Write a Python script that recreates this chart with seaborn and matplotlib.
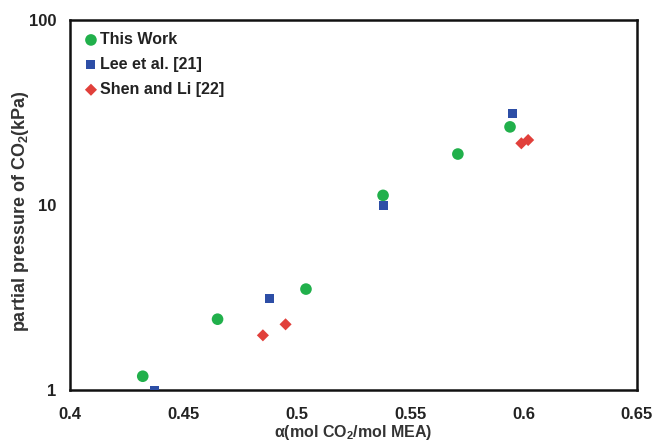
import matplotlib
matplotlib.use("Agg")
import matplotlib.pyplot as plt
import seaborn as sns
from matplotlib.ticker import MultipleLocator, LogLocator, NullFormatter, FixedLocator, FixedFormatter

# Data
this_work_x = [0.432, 0.465, 0.504, 0.538, 0.571, 0.594]
this_work_y = [1.19, 2.42, 3.52, 11.3, 18.9, 26.5]

lee_x = [0.437, 0.488, 0.538, 0.595]
lee_y = [1.0, 3.15, 10.0, 31.4]

shen_x = [0.485, 0.495, 0.599, 0.602]
shen_y = [1.98, 2.27, 21.6, 22.5]

x_ticks = [0.4, 0.45, 0.5, 0.55, 0.6, 0.65]
x_tick_labels = ["0.4", "0.45", "0.5", "0.55", "0.6", "0.65"]
y_ticks = [1, 10, 100]
y_tick_labels = ["1", "10", "100"]

sns.set_theme(style="white")
plt.rcParams["font.family"] = ["Liberation Sans", "DejaVu Sans"]
plt.rcParams["mathtext.fontset"] = "custom"
plt.rcParams["mathtext.rm"] = "Liberation Sans"
plt.rcParams["mathtext.bf"] = "Liberation Sans:bold"

fig = plt.figure(figsize=(6.56, 4.48), dpi=100)
ax = fig.add_axes([0.107, 0.129, 0.864, 0.826])

sns.scatterplot(x=this_work_x, y=this_work_y, ax=ax, marker="o", s=70,
                color="#21b04b", edgecolor="none", label="This Work", zorder=3)
sns.scatterplot(x=lee_x, y=lee_y, ax=ax, marker="s", s=42,
                color="#2d4ea6", edgecolor="none", label="Lee et al. [21]", zorder=3)
sns.scatterplot(x=shen_x, y=shen_y, ax=ax, marker="D", s=38,
                color="#e1403b", edgecolor="none", label="Shen and Li [22]", zorder=3)

ax.set_yscale("log")
ax.set_xlim(0.4, 0.65)
ax.set_ylim(1, 100)

ax.xaxis.set_major_locator(FixedLocator(x_ticks))
ax.xaxis.set_major_formatter(FixedFormatter(x_tick_labels))
ax.xaxis.set_minor_locator(MultipleLocator(0.01))
ax.yaxis.set_major_locator(FixedLocator(y_ticks))
ax.yaxis.set_major_formatter(FixedFormatter(y_tick_labels))
ax.yaxis.set_minor_locator(LogLocator(base=10, subs=range(2, 10)))
ax.yaxis.set_minor_formatter(NullFormatter())

ax.tick_params(axis="both", which="major", direction="inout", length=8,
               width=1.2, labelsize=12, colors="#222222", pad=6)
ax.tick_params(axis="both", which="minor", direction="in", length=4, width=1)
ax.tick_params(axis="x", which="major", pad=8)
for lbl in ax.get_xticklabels() + ax.get_yticklabels():
    lbl.set_fontweight("bold")

for sp in ax.spines.values():
    sp.set_linewidth(1.8)
    sp.set_color("#111111")

ax.set_xlabel(r"α(mol CO$_\mathbf{2}$/mol MEA)", fontsize=11.5, fontweight="bold",
              color="#333333", labelpad=1)
ax.set_ylabel(r"partial pressure of CO$_\mathbf{2}$(kPa)", fontsize=13,
              fontweight="bold", color="#333333")
ax.yaxis.set_label_coords(-0.07, 0.485)

leg = ax.legend(loc="upper left", frameon=False, handletextpad=0.0,
                labelspacing=0.62, borderaxespad=0.35, handlelength=1.1,
                prop={"weight": "bold", "size": 11.5})
for t in leg.get_texts():
    t.set_color("#222222")

plt.savefig("out.png", dpi=100)
plt.close()
